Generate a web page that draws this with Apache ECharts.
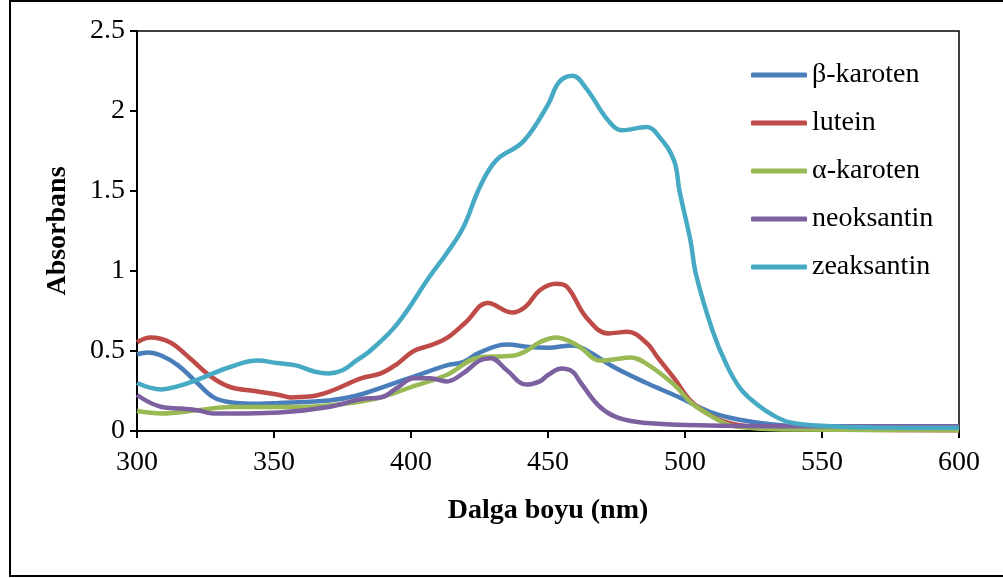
<!DOCTYPE html>
<html>
<head>
<meta charset="utf-8">
<script src="https://cdn.jsdelivr.net/npm/echarts@6/dist/echarts.min.js"></script>
<style>
html, body { margin: 0; padding: 0; background: #fff; }
#main { width: 1003px; height: 578px; }
</style>
</head>
<body>
<div id="main"></div>
<script>
// wavelength (nm), absorbance pairs
var betaKaroten = [[300,0.48],[304,0.49],[309,0.47],[315,0.41],[322,0.30],[328,0.21],[334,0.18],[345,0.17],[352,0.175],[370,0.19],[380,0.22],[389,0.27],[401,0.34],[413,0.41],[419,0.43],[425,0.49],[435,0.54],[443,0.525],[450,0.52],[459,0.535],[464,0.505],[474,0.40],[486,0.30],[498,0.21],[509,0.12],[520,0.07],[532,0.04],[550,0.02],[575,0.012],[600,0.01]];
var lutein = [[300,0.555],[305,0.585],[312,0.555],[319,0.46],[327,0.34],[334,0.275],[343,0.25],[352,0.225],[356,0.21],[363,0.215],[370,0.245],[382,0.33],[389,0.36],[395,0.42],[401,0.50],[407,0.535],[413,0.58],[420,0.68],[428,0.80],[437,0.74],[442,0.78],[447,0.88],[453,0.92],[457,0.90],[464,0.71],[472,0.61],[479,0.62],[486,0.55],[490,0.46],[496,0.33],[502,0.19],[508,0.11],[515,0.055],[525,0.025],[540,0.012],[600,0.005]];
var alfaKaroten = [[300,0.125],[309,0.11],[322,0.13],[334,0.15],[346,0.15],[358,0.15],[370,0.16],[380,0.18],[389,0.21],[401,0.28],[413,0.35],[425,0.46],[437,0.47],[442,0.50],[447,0.555],[453,0.585],[458,0.56],[462,0.52],[469,0.44],[475,0.45],[480,0.46],[486,0.42],[496,0.29],[502,0.18],[508,0.11],[515,0.045],[520,0.025],[535,0.01],[600,0.005]];
var neoksantin = [[300,0.225],[309,0.15],[316,0.14],[322,0.13],[328,0.11],[340,0.11],[352,0.115],[370,0.15],[382,0.20],[389,0.21],[395,0.27],[401,0.33],[407,0.33],[413,0.31],[419,0.36],[425,0.44],[429,0.455],[435,0.38],[442,0.29],[447,0.31],[450,0.35],[455,0.39],[459,0.37],[462,0.30],[469,0.15],[476,0.08],[486,0.05],[509,0.035],[550,0.03],[600,0.03]];
var zeaksantin = [[300,0.30],[309,0.26],[315,0.28],[322,0.32],[334,0.40],[344,0.44],[351,0.425],[358,0.41],[365,0.37],[370,0.36],[375,0.38],[380,0.44],[385,0.50],[395,0.67],[407,0.97],[413,1.11],[419,1.27],[425,1.52],[431,1.69],[441,1.81],[450,2.04],[454,2.18],[459,2.22],[464,2.14],[472,1.94],[477,1.88],[486,1.90],[491,1.83],[496,1.69],[498,1.50],[502,1.19],[504,0.98],[510,0.63],[515,0.42],[520,0.27],[526,0.17],[532,0.10],[538,0.055],[548,0.035],[570,0.022],[600,0.02]];

var names = ['β-karoten', 'lutein', 'α-karoten', 'neoksantin', 'zeaksantin'];
var colors = ['#4A7EBB', '#BE4B48', '#98B954', '#7D60A0', '#46AAC5'];
var allData = [betaKaroten, lutein, alfaKaroten, neoksantin, zeaksantin];

var font = 'Liberation Serif';
var myChart = echarts.init(document.getElementById('main'));

var series = names.map(function (n, i) {
    return {
        name: n,
        type: 'line',
        data: allData[i],
        smooth: 0.4,
        symbol: 'none',
        lineStyle: { color: colors[i], width: 4.5 },
        itemStyle: { color: colors[i] }
    };
});

var option = {
    backgroundColor: '#fff',
    animation: false,
    graphic: [{
        type: 'rect',
        shape: { x: 10, y: 1, width: 1000, height: 575 },
        style: { fill: 'none', stroke: '#000', lineWidth: 2 }
    }],
    grid: {
        left: 137, right: 44, top: 31, bottom: 147,
        show: true, borderColor: '#000', borderWidth: 1.5
    },
    legend: {
        orient: 'vertical',
        left: 746,
        top: 56,
        itemWidth: 56,
        itemHeight: 5,
        itemGap: 20,
        icon: 'roundRect',
        textStyle: { fontFamily: font, fontSize: 28, color: '#000' },
        data: names
    },
    xAxis: {
        type: 'value',
        min: 300, max: 600, interval: 50,
        name: 'Dalga boyu (nm)',
        nameLocation: 'middle',
        nameGap: 66,
        nameTextStyle: { fontFamily: font, fontSize: 28, fontWeight: 'bold', color: '#000' },
        axisLine: { lineStyle: { color: '#000', width: 2 } },
        axisTick: { show: true, length: 7, lineStyle: { color: '#000', width: 2 } },
        axisLabel: { fontFamily: font, fontSize: 28, color: '#000', margin: 18 },
        splitLine: { show: false }
    },
    yAxis: {
        type: 'value',
        min: 0, max: 2.5, interval: 0.5,
        name: 'Absorbans',
        nameLocation: 'middle',
        nameGap: 65,
        nameTextStyle: { fontFamily: font, fontSize: 28, fontWeight: 'bold', color: '#000' },
        axisLine: { show: true, lineStyle: { color: '#000', width: 2 } },
        axisTick: { show: true, length: 7, lineStyle: { color: '#000', width: 2 } },
        axisLabel: { fontFamily: font, fontSize: 28, color: '#000', margin: 12 },
        splitLine: { show: false }
    },
    series: series
};
myChart.setOption(option);
</script>
</body>
</html>
